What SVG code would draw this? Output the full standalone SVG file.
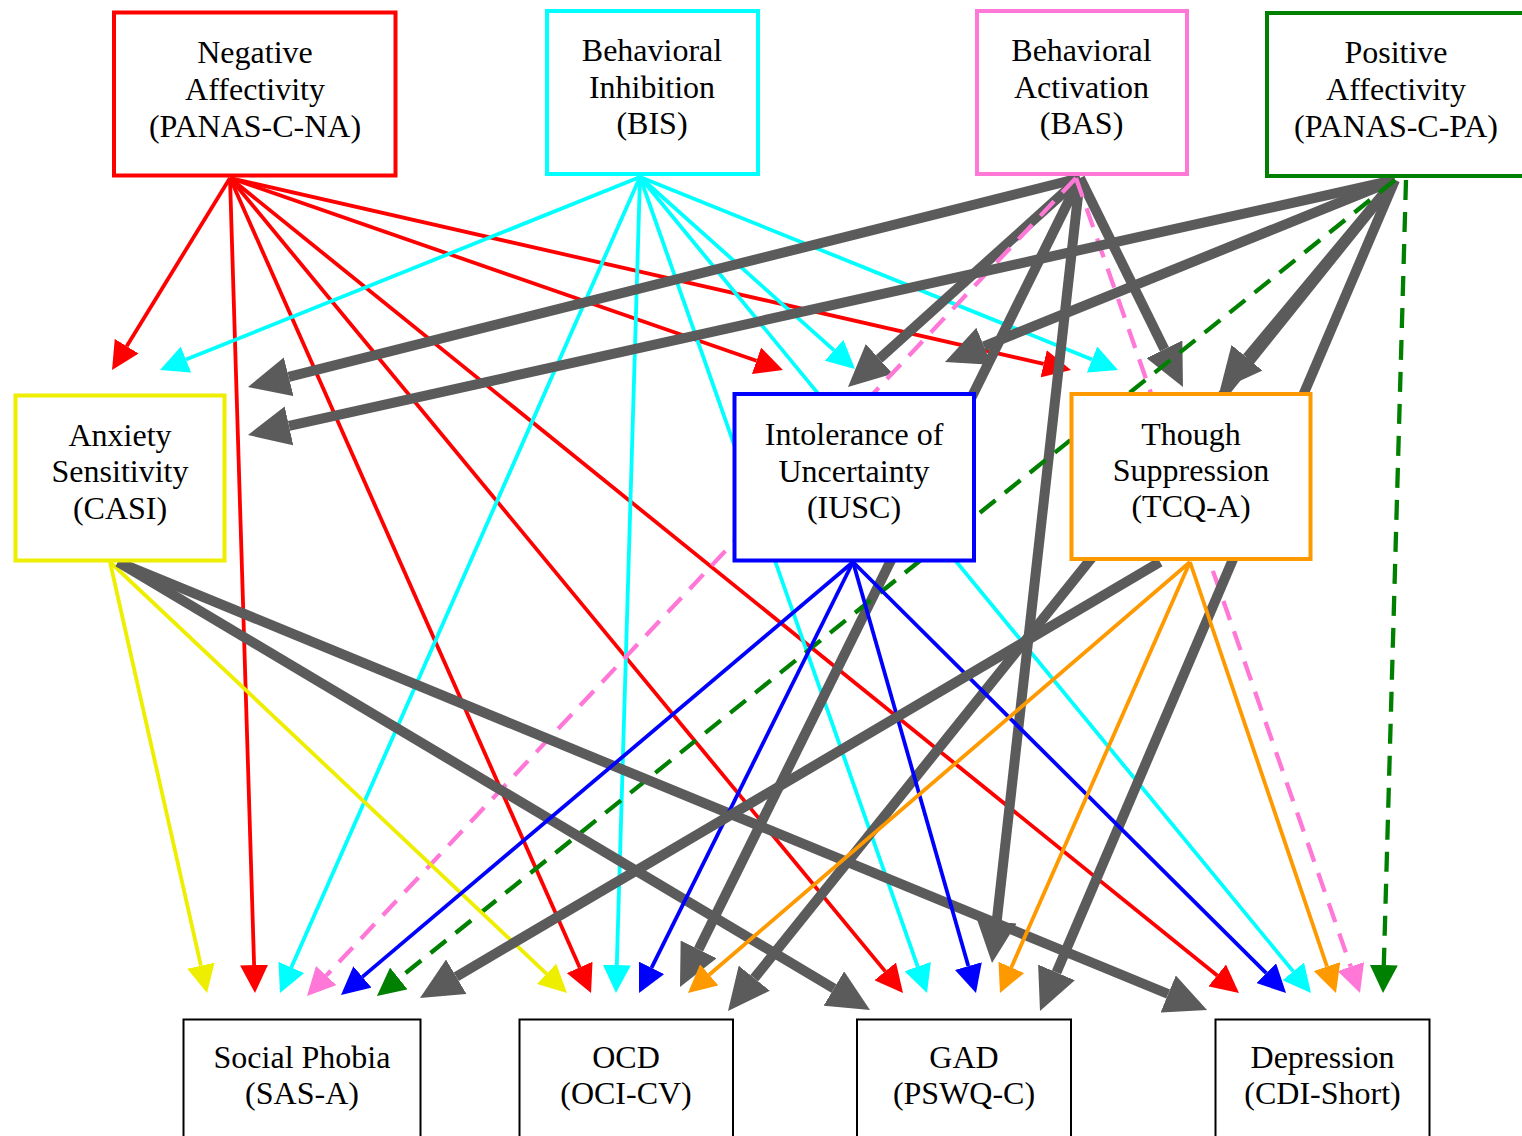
<svg xmlns="http://www.w3.org/2000/svg" width="1522" height="1136" viewBox="0 0 1522 1136">
<style>
.n rect{fill:#fff;stroke-width:4}
.b rect{fill:#fff;stroke:#000;stroke-width:2}
text{font-family:"Liberation Serif","Times New Roman",serif;font-size:32px;fill:#000;text-anchor:middle}
.e line{fill:none}
.t{stroke-width:3.8}
.k{stroke:#5b5b5b;stroke-width:10;marker-end:url(#aK)}
.d{stroke-width:4.3;stroke-dasharray:20,12}
.r{stroke:#ff0000;marker-end:url(#aR)}
.c{stroke:#00ffff;marker-end:url(#aC)}
.u{stroke:#0000ff;marker-end:url(#aU)}
.y{stroke:#eeee00;marker-end:url(#aY)}
.o{stroke:#ff9900;marker-end:url(#aO)}
.p{stroke:#ff78d8;marker-end:url(#aP)}
.g{stroke:#008000;marker-end:url(#aG)}
</style>
<defs>
<marker id="aR" viewBox="0 -14 28 28" markerWidth="28" markerHeight="28" refX="0" refY="0" orient="auto" markerUnits="userSpaceOnUse"><path d="M0,-14L28,0L0,14z" fill="#ff0000"/></marker>
<marker id="aC" viewBox="0 -14 28 28" markerWidth="28" markerHeight="28" refX="0" refY="0" orient="auto" markerUnits="userSpaceOnUse"><path d="M0,-14L28,0L0,14z" fill="#00ffff"/></marker>
<marker id="aU" viewBox="0 -14 28 28" markerWidth="28" markerHeight="28" refX="0" refY="0" orient="auto" markerUnits="userSpaceOnUse"><path d="M0,-14L28,0L0,14z" fill="#0000ff"/></marker>
<marker id="aY" viewBox="0 -14 28 28" markerWidth="28" markerHeight="28" refX="0" refY="0" orient="auto" markerUnits="userSpaceOnUse"><path d="M0,-14L28,0L0,14z" fill="#eeee00"/></marker>
<marker id="aO" viewBox="0 -14 28 28" markerWidth="28" markerHeight="28" refX="0" refY="0" orient="auto" markerUnits="userSpaceOnUse"><path d="M0,-14L28,0L0,14z" fill="#ff9900"/></marker>
<marker id="aP" viewBox="0 -14 28 28" markerWidth="28" markerHeight="28" refX="0" refY="0" orient="auto" markerUnits="userSpaceOnUse"><path d="M0,-14L28,0L0,14z" fill="#ff78d8"/></marker>
<marker id="aG" viewBox="0 -14 28 28" markerWidth="28" markerHeight="28" refX="0" refY="0" orient="auto" markerUnits="userSpaceOnUse"><path d="M0,-14L28,0L0,14z" fill="#008000"/></marker>
<marker id="aK" viewBox="0 -20 42 40" markerWidth="42" markerHeight="40" refX="0" refY="0" orient="auto" markerUnits="userSpaceOnUse"><path d="M0,-20L42,0L0,20z" fill="#5b5b5b"/></marker>
</defs>
<g id="edges" class="e">
<!-- Negative Affectivity -->
<line class="t r" x1="230" y1="178" x2="126.7" y2="346.2"/>
<line class="t r" x1="230" y1="178" x2="254.1" y2="965.0"/>
<line class="t r" x1="230" y1="178" x2="579.7" y2="967.4"/>
<line class="t r" x1="230" y1="178" x2="885.2" y2="971.4"/>
<line class="t r" x1="230" y1="178" x2="1217.2" y2="975.4"/>
<line class="t r" x1="230" y1="178" x2="756.5" y2="360.8"/>
<line class="t r" x1="230" y1="178" x2="1043.7" y2="363.8"/>
<!-- Behavioral Inhibition -->
<line class="t c" x1="640" y1="177" x2="186.0" y2="359.6"/>
<line class="t c" x1="640" y1="177" x2="291.3" y2="967.4"/>
<line class="t c" x1="640" y1="177" x2="616.8" y2="965.0"/>
<line class="t c" x1="640" y1="177" x2="917.7" y2="966.6"/>
<line class="t c" x1="640" y1="177" x2="834.1" y2="350.3"/>
<line class="t c" x1="640" y1="177" x2="1092.0" y2="359.5"/>
<line class="t c" x1="640" y1="177" x2="1293.2" y2="971.4"/>
<!-- Behavioral Activation -->
<line class="k" x1="1080" y1="178" x2="288.7" y2="376.8"/>
<line class="k" x1="1080" y1="178" x2="879.2" y2="358.9"/>
<line class="k" x1="1080" y1="178" x2="1164.4" y2="349.3"/>
<line class="k" x1="1080" y1="178" x2="698.6" y2="949.4"/>
<line class="k" x1="1080" y1="178" x2="996.7" y2="921.3"/>
<line class="d p" x1="1076" y1="178" x2="326.2" y2="975.6"/>
<line class="d p" x1="1076" y1="178" x2="1350.8" y2="966.6"/>
<!-- Positive Affectivity -->
<line class="k" x1="1395" y1="180" x2="289.0" y2="425.9"/>
<line class="k" x1="1395" y1="180" x2="983.9" y2="346.3"/>
<line class="k" x1="1395" y1="180" x2="1246.9" y2="357.7"/>
<line class="k" x1="1395" y1="180" x2="754.3" y2="978.2"/>
<line class="k" x1="1395" y1="180" x2="1056.5" y2="972.4"/>
<line class="d g" x1="1395" y1="180" x2="398.8" y2="978.5"/>
<line class="d g" x1="1406" y1="180" x2="1383.8" y2="965.0"/>
<!-- Anxiety Sensitivity -->
<line class="t y" x1="110" y1="562" x2="200.9" y2="965.7"/>
<line class="t y" x1="110" y1="562" x2="546.6" y2="973.8"/>
<line class="k" x1="118" y1="562" x2="833.9" y2="988.5"/>
<line class="k" x1="118" y1="562" x2="1168.2" y2="994.0"/>
<!-- Intolerance of Uncertainty -->
<line class="t u" x1="853" y1="562" x2="362.4" y2="976.9"/>
<line class="t u" x1="853" y1="562" x2="651.5" y2="967.9"/>
<line class="t u" x1="853" y1="562" x2="968.3" y2="966.1"/>
<line class="t u" x1="853" y1="562" x2="1266.2" y2="973.2"/>
<!-- Thought Suppression -->
<line class="k" x1="1160" y1="562" x2="456.2" y2="976.7"/>
<line class="t o" x1="1190" y1="562" x2="709.2" y2="974.8"/>
<line class="t o" x1="1190" y1="562" x2="1011.3" y2="967.4"/>
<line class="t o" x1="1190" y1="562" x2="1327.0" y2="966.5"/>
</g>
<g id="node-na" class="n"><rect x="114" y="12.5" width="281.5" height="163" stroke="#ff0000"/><text x="255" y="62.7">Negative</text><text x="255" y="100">Affectivity</text><text x="255" y="136.7">(PANAS-C-NA)</text></g>
<g id="node-bis" class="n"><rect x="547" y="11" width="211" height="163" stroke="#00ffff"/><text x="652" y="61">Behavioral</text><text x="652" y="97.5">Inhibition</text><text x="652" y="134">(BIS)</text></g>
<g id="node-bas" class="n"><rect x="977" y="11" width="210" height="163" stroke="#ff78d8"/><text x="1081.5" y="61">Behavioral</text><text x="1081.5" y="97.5">Activation</text><text x="1081.5" y="134">(BAS)</text></g>
<g id="node-pa" class="n"><rect x="1267" y="13" width="270" height="163" stroke="#008000"/><text x="1396" y="62.7">Positive</text><text x="1396" y="100">Affectivity</text><text x="1396" y="136.7">(PANAS-C-PA)</text></g>
<g id="node-casi" class="n"><rect x="15.5" y="395.5" width="209" height="165" stroke="#eeee00"/><text x="120" y="446">Anxiety</text><text x="120" y="482">Sensitivity</text><text x="120" y="519">(CASI)</text></g>
<g id="node-iusc" class="n"><rect x="734.5" y="394" width="239.5" height="166.5" stroke="#0000ff"/><text x="854" y="445">Intolerance of</text><text x="854" y="481.5">Uncertainty</text><text x="854" y="518">(IUSC)</text></g>
<g id="node-tcq" class="n"><rect x="1071.5" y="394" width="239" height="165" stroke="#ff9900"/><text x="1191" y="445">Though</text><text x="1191" y="481">Suppression</text><text x="1191" y="517">(TCQ-A)</text></g>
<g id="node-sas" class="b"><rect x="183.5" y="1019.5" width="237" height="200"/><text x="302" y="1067.5">Social Phobia</text><text x="302" y="1103.5">(SAS-A)</text></g>
<g id="node-ocd" class="b"><rect x="519.5" y="1019.5" width="213.5" height="200"/><text x="626" y="1067.5">OCD</text><text x="626" y="1103.5">(OCI-CV)</text></g>
<g id="node-gad" class="b"><rect x="857" y="1019.5" width="214" height="200"/><text x="964" y="1067.5">GAD</text><text x="964" y="1103.5">(PSWQ-C)</text></g>
<g id="node-dep" class="b"><rect x="1215.5" y="1019.5" width="214" height="200"/><text x="1322.5" y="1067.5">Depression</text><text x="1322.5" y="1103.5">(CDI-Short)</text></g>
</svg>
